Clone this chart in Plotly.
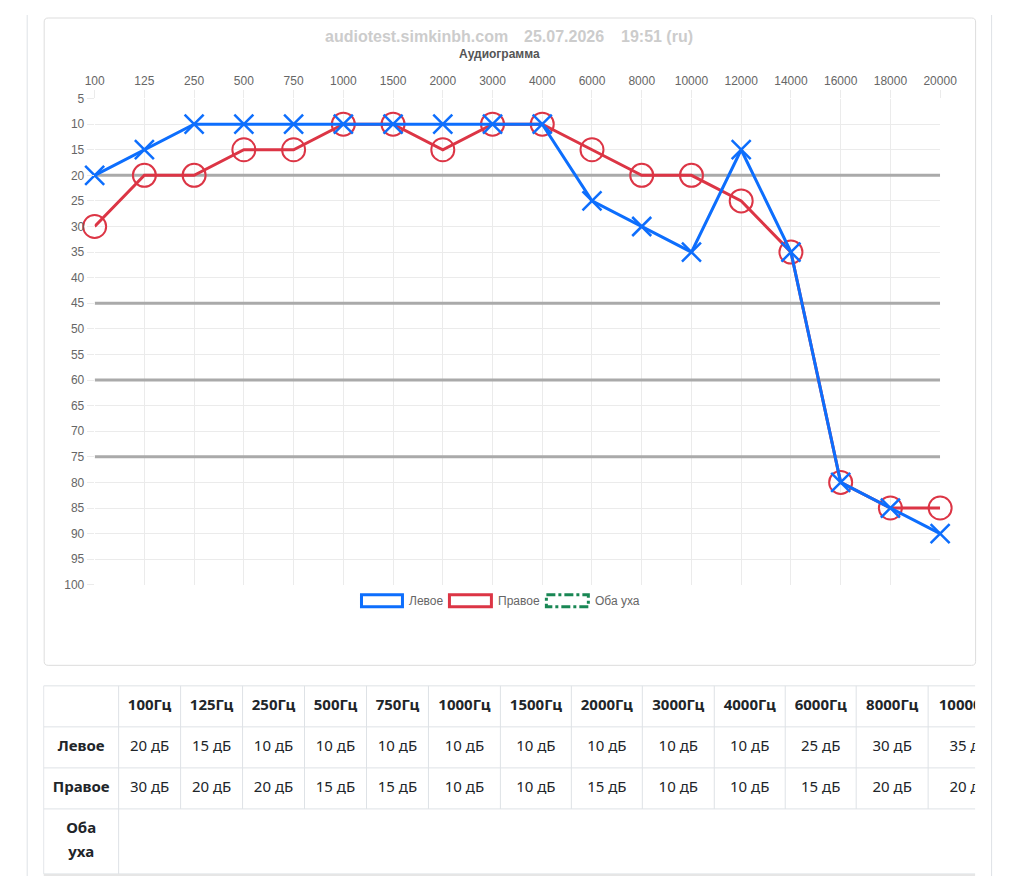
import plotly.graph_objects as go

W, H = 1015, 876
# calibration of the capture (measured): picture = S * figure_px + B
SX, BX = 0.974, 17.3
SY, BY = 0.9835, 14.5

# ---------------- data ----------------
freqs = ['100', '125', '250', '500', '750', '1000', '1500', '2000', '3000', '4000',
         '6000', '8000', '10000', '12000', '14000', '16000', '18000', '20000']
left_db = [20, 15, 10, 10, 10, 10, 10, 10, 10, 10, 25, 30, 35, 15, 35, 80, 85, 90]
right_db = [30, 20, 20, 15, 15, 10, 10, 15, 10, 10, 15, 20, 20, 25, 35, 80, 85, 85]
both_db = []  # no data for "Оба уха"
threshold_lines = [20, 45, 60, 75]
y_ticks = list(range(5, 101, 5))

series_names = ['Левое', 'Правое', 'Оба уха']
title_parts = ['audiotest.simkinbh.com', '25.07.2026', '19:51 (ru)']
subtitle = 'Аудиограмма'
hz_suffix = 'Гц'
db_suffix = ' дБ'

BLUE = '#0d6efd'
RED = '#dc3545'
GREEN = '#198754'
GRID = '#ebebeb'
TICKC = '#666666'
BORDER = '#dee2e6'
TXT = '#212529'
FONT = 'Liberation Sans, Arial, sans-serif'
TFONT = 'Noto Sans, Open Sans, sans-serif'


def px(x):
    return ((x - BX) / SX) / W


def py(y):
    return 1 - ((y - BY) / SY) / H


def clamp(v):
    return max(0.0, min(1.0, v))


fig = go.Figure()

# ---------------- audiogram ----------------
for t in threshold_lines:
    fig.add_trace(go.Scatter(x=[freqs[0], freqs[-1]], y=[t, t], mode='lines',
                             line=dict(color='#aaaaaa', width=3), hoverinfo='skip',
                             showlegend=False, xaxis='x', yaxis='y'))
fig.add_trace(go.Scatter(
    x=freqs, y=right_db, mode='lines+markers', name=series_names[1],
    line=dict(color=RED, width=3),
    marker=dict(symbol='circle-open', size=23, color=RED, line=dict(width=2, color=RED)),
    cliponaxis=False, showlegend=False, xaxis='x', yaxis='y'))
fig.add_trace(go.Scatter(
    x=freqs, y=left_db, mode='lines+markers', name=series_names[0],
    line=dict(color=BLUE, width=3),
    marker=dict(symbol='x-thin', size=19, color=BLUE, line=dict(width=2.5, color=BLUE)),
    cliponaxis=False, showlegend=False, xaxis='x', yaxis='y'))
if both_db:
    fig.add_trace(go.Scatter(
        x=freqs[:len(both_db)], y=both_db, mode='lines', name=series_names[2],
        line=dict(color=GREEN, width=3, dash='dashdot'),
        showlegend=False, xaxis='x', yaxis='y'))

shapes = []
# ---------------- page chrome ----------------
for lx in (26.5, 991.5):
    shapes.append(dict(type='line', xref='paper', yref='paper', x0=px(lx), x1=px(lx),
                       y0=0, y1=1, line=dict(color=BORDER, width=1), layer='below'))

# rounded card
x0c, x1c, y0c, y1c, r = 43.5, 975.5, 17.5, 664.5, 4
path = (f"M {px(x0c + r)},{py(y0c)} L {px(x1c - r)},{py(y0c)} "
        f"Q {px(x1c)},{py(y0c)} {px(x1c)},{py(y0c + r)} "
        f"L {px(x1c)},{py(y1c - r)} Q {px(x1c)},{py(y1c)} {px(x1c - r)},{py(y1c)} "
        f"L {px(x0c + r)},{py(y1c)} Q {px(x0c)},{py(y1c)} {px(x0c)},{py(y1c - r)} "
        f"L {px(x0c)},{py(y0c + r)} Q {px(x0c)},{py(y0c)} {px(x0c + r)},{py(y0c)} Z")
shapes.append(dict(type='path', xref='paper', yref='paper', path=path,
                   line=dict(color='#dddddd', width=1), layer='below'))

annotations = []
# title
title_centers = [416, 563.5, 656.5]
for txt, cx in zip(title_parts, title_centers):
    annotations.append(dict(text=txt, x=px(cx), y=py(36), xref='paper', yref='paper',
                            showarrow=False, xanchor='center', yanchor='middle',
                            font=dict(family=FONT, size=16, color='#cccccc', weight='bold')))
annotations.append(dict(text=subtitle, x=px(499), y=py(53), xref='paper', yref='paper',
                        showarrow=False, xanchor='center', yanchor='middle',
                        font=dict(family=FONT, size=12, color='#555555', weight='bold')))

# custom legend
leg_boxes = [(361, 402, BLUE, 'solid', 407), (449, 491, RED, 'solid', 496),
             (546, 588, GREEN, 'dashdot', 593)]
for (bx0, bx1, col, dash, tx), name in zip(leg_boxes, series_names):
    shapes.append(dict(type='rect', xref='paper', yref='paper',
                       x0=px(bx0), x1=px(bx1), y0=py(594), y1=py(606),
                       line=dict(color=col, width=3, dash=dash), fillcolor='white',
                       layer='above'))
    annotations.append(dict(text=name, x=px(tx), y=py(600), xref='paper', yref='paper',
                            showarrow=False, xanchor='left', yanchor='middle',
                            font=dict(family=FONT, size=12, color='#666666')))

# ---------------- table (pixel-coordinate subplot, clipped at the right) ----------------
col_edges = [43, 118, 180, 242, 304, 366, 428, 500, 571, 642, 714, 785, 856, 928, 1010]
row_edges = [685, 726, 767, 808, 873]
n_cols = len(col_edges) - 2
table_freqs = freqs[:n_cols]
tx_ax = dict(xaxis='x2', yaxis='y2', showlegend=False, hoverinfo='skip', cliponaxis=True)
TSIZE = 15

# borders
hx, hy = [], []
for ry in row_edges:
    hx += [col_edges[0], col_edges[-1], None]
    hy += [ry, ry, None]
vx, vy = [], []
for i, cx in enumerate(col_edges[:-1]):
    bottom = row_edges[-1] if i < 2 else row_edges[3]
    vx += [cx, cx, None]
    vy += [row_edges[0], bottom, None]
fig.add_trace(go.Scatter(x=hx + vx, y=hy + vy, mode='lines',
                         line=dict(color=BORDER, width=1), **tx_ax))
fig.add_trace(go.Scatter(x=[col_edges[0], col_edges[-1]], y=[row_edges[-1] + 1.5] * 2,
                         mode='lines', line=dict(color='#e6e6e6', width=3), **tx_ax))

centers = [(col_edges[i] + col_edges[i + 1]) / 2 for i in range(len(col_edges) - 1)]
row_c = [(row_edges[i] + row_edges[i + 1]) / 2 for i in range(len(row_edges) - 1)]

# header
fig.add_trace(go.Scatter(x=centers[1:], y=[row_c[0]] * n_cols, mode='text',
                         text=[f'<b>{f}{hz_suffix}</b>' for f in table_freqs],
                         textfont=dict(family=TFONT, size=TSIZE, color=TXT), **tx_ax))
# row labels
both_lines = series_names[2].split(' ')
lab_x = [centers[0]] * (2 + len(both_lines))
lab_y = [row_c[1], row_c[2], row_c[3] - 12, row_c[3] + 12]
lab_t = [f'<b>{s}</b>' for s in series_names[:2] + both_lines]
fig.add_trace(go.Scatter(x=lab_x, y=lab_y, mode='text', text=lab_t,
                         textfont=dict(family=TFONT, size=TSIZE, color=TXT), **tx_ax))
# values
fig.add_trace(go.Scatter(x=centers[1:], y=[row_c[1]] * n_cols, mode='text',
                         text=[f'{v}{db_suffix}' for v in left_db[:n_cols]],
                         textfont=dict(family=TFONT, size=TSIZE, color=TXT), **tx_ax))
fig.add_trace(go.Scatter(x=centers[1:], y=[row_c[2]] * n_cols, mode='text',
                         text=[f'{v}{db_suffix}' for v in right_db[:n_cols]],
                         textfont=dict(family=TFONT, size=TSIZE, color=TXT), **tx_ax))

tab_bottom = 876
fig.update_layout(
    width=W, height=H, margin=dict(l=0, r=0, t=0, b=0),
    paper_bgcolor='white', plot_bgcolor='rgba(0,0,0,0)',
    showlegend=False, shapes=shapes, annotations=annotations,
    xaxis=dict(type='category', categoryorder='array', categoryarray=freqs,
               range=[0, len(freqs) - 1], side='top', domain=[px(94), px(940)],
               showgrid=True, gridcolor=GRID, gridwidth=1, zeroline=False, showline=False,
               ticks='outside', ticklen=8, tickcolor=GRID,
               tickfont=dict(family=FONT, size=12, color=TICKC), anchor='y', fixedrange=True),
    yaxis=dict(range=[100, 5], tickvals=y_ticks, domain=[py(584), py(98)],
               showgrid=True, gridcolor=GRID, gridwidth=1, zeroline=False, showline=False,
               ticks='outside', ticklen=7, tickcolor=GRID,
               tickfont=dict(family=FONT, size=12, color=TICKC), anchor='x', fixedrange=True),
    xaxis2=dict(range=[col_edges[0] - 0.5, 975], domain=[px(col_edges[0] - 0.5), px(975)],
                visible=False, anchor='y2', fixedrange=True),
    yaxis2=dict(range=[tab_bottom, 680], domain=[clamp(py(tab_bottom)), py(680)],
                visible=False, anchor='x2', fixedrange=True),
)

fig.write_html("out.html", config={'displayModeBar': False})
